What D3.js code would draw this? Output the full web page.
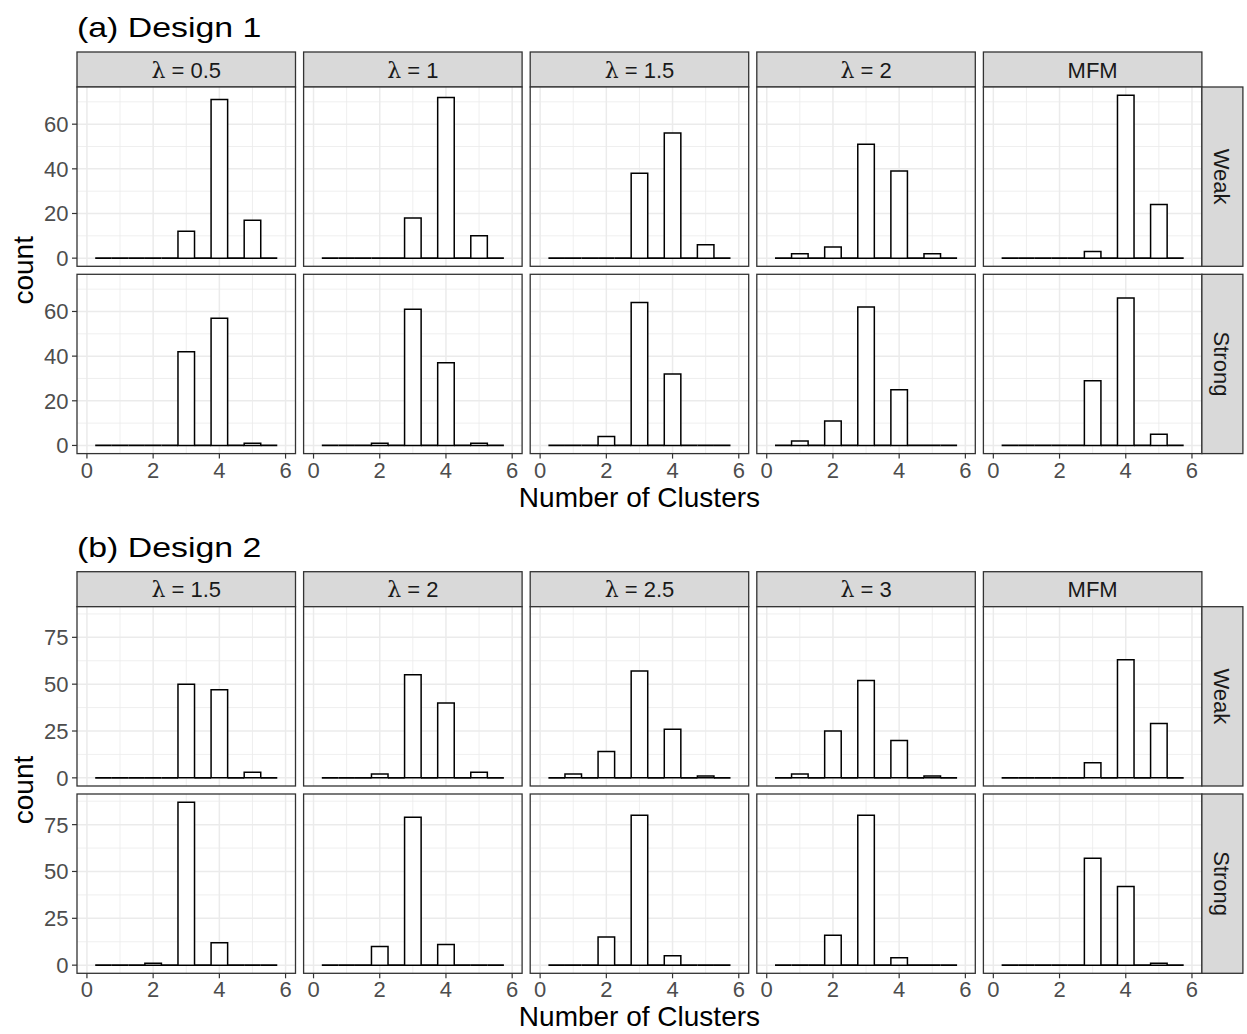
<!DOCTYPE html>
<html lang="en">
<head>
<meta charset="utf-8">
<title>Number of clusters by design</title>
<script src="https://d3js.org/d3.v7.min.js"></script>
<style>
  body { margin: 0; background: #fff; }
  svg { display: block; font-family: "Liberation Sans", Arial, Helvetica, sans-serif; }
  .title { font-size: 28px; fill: #000; }
  .axis-title { font-size: 28px; fill: #000; }
  .tick-label { font-size: 22px; fill: #4d4d4d; }
  .strip-label { font-size: 22px; fill: #1a1a1a; }
  .lambda { font-family: "DejaVu Serif", "Liberation Serif", serif; }
</style>
</head>
<body>
<svg width="1247" height="1034"></svg>
<script>
// counts for clusters 1..5, one array per panel (100 replicates each)
const clusters = [1, 2, 3, 4, 5];
const rowLabels = ["Weak", "Strong"];

const design1Labels = [["λ", " = 0.5"], ["λ", " = 1"], ["λ", " = 1.5"], ["λ", " = 2"], ["", "MFM"]];
const design1Weak = [
  [0, 0, 12, 71, 17],
  [0, 0, 18, 72, 10],
  [0, 0, 38, 56, 6],
  [2, 5, 51, 39, 2],
  [0, 0, 3, 73, 24]
];
const design1Strong = [
  [0, 0, 42, 57, 1],
  [0, 1, 61, 37, 1],
  [0, 4, 64, 32, 0],
  [2, 11, 62, 25, 0],
  [0, 0, 29, 66, 5]
];
const design1YTicks = [0, 20, 40, 60];
const design1YMinor = [10, 30, 50, 70];

const design2Labels = [["λ", " = 1.5"], ["λ", " = 2"], ["λ", " = 2.5"], ["λ", " = 3"], ["", "MFM"]];
const design2Weak = [
  [0, 0, 50, 47, 3],
  [0, 2, 55, 40, 3],
  [2, 14, 57, 26, 1],
  [2, 25, 52, 20, 1],
  [0, 0, 8, 63, 29]
];
const design2Strong = [
  [0, 1, 87, 12, 0],
  [0, 10, 79, 11, 0],
  [0, 15, 80, 5, 0],
  [0, 16, 80, 4, 0],
  [0, 0, 57, 42, 1]
];
const design2YTicks = [0, 25, 50, 75];
const design2YMinor = [12.5, 37.5, 62.5, 87.5];

const xTicks = [0, 2, 4, 6];
const xMinor = [1, 3, 5];

// layout
const panelLeft = 77, panelW = 218.5, colPitch = 226.6;
const stripH = 35, panelH = 179.3, rowGap = 8, rightStripW = 41;
const binWidth = 0.5;

const svg = d3.select("svg");

function drawDesign(top, title, labels, weak, strong, yTicks, yMinor) {
  const g = svg.append("g");
  const rows = [weak, strong];
  const yMax = d3.max(rows.flat(2));
  const pad = yMax * 0.05;

  const x = d3.scaleLinear().domain([-0.3, 6.3]).range([0, panelW]);
  const y = d3.scaleLinear().domain([-pad, yMax + pad]).range([panelH, 0]);

  // title (the reference title is set wide)
  g.append("text").attr("class", "title")
    .attr("transform", `translate(${panelLeft},${top - 15}) scale(1.21,1)`)
    .text(title);

  const panelsTop = top + stripH;

  labels.forEach((lab, c) => {
    const px = panelLeft + c * colPitch;

    // top strip
    g.append("rect")
      .attr("x", px).attr("y", top).attr("width", panelW).attr("height", stripH)
      .attr("fill", "#d9d9d9").attr("stroke", "#333333").attr("stroke-width", 1.3);
    const st = g.append("text").attr("class", "strip-label")
      .attr("x", px + panelW / 2).attr("y", top + stripH / 2 + 8)
      .attr("text-anchor", "middle");
    if (lab[0]) st.append("tspan").attr("class", "lambda").text(lab[0]);
    st.append("tspan").text(lab[1]);

    rows.forEach((vals, r) => {
      const py = panelsTop + r * (panelH + rowGap);
      const p = g.append("g").attr("transform", `translate(${px},${py})`);

      p.append("rect").attr("width", panelW).attr("height", panelH).attr("fill", "#fff");

      // grid
      p.selectAll(".gxm").data(xMinor).enter().append("line")
        .attr("x1", d => x(d)).attr("x2", d => x(d)).attr("y1", 0).attr("y2", panelH)
        .attr("stroke", "#ebebeb").attr("stroke-width", 0.8);
      p.selectAll(".gym").data(yMinor.filter(v => v < yMax + pad)).enter().append("line")
        .attr("x1", 0).attr("x2", panelW).attr("y1", d => y(d)).attr("y2", d => y(d))
        .attr("stroke", "#ebebeb").attr("stroke-width", 0.8);
      p.selectAll(".gx").data(xTicks).enter().append("line")
        .attr("x1", d => x(d)).attr("x2", d => x(d)).attr("y1", 0).attr("y2", panelH)
        .attr("stroke", "#ebebeb").attr("stroke-width", 1.5);
      p.selectAll(".gy").data(yTicks).enter().append("line")
        .attr("x1", 0).attr("x2", panelW).attr("y1", d => y(d)).attr("y2", d => y(d))
        .attr("stroke", "#ebebeb").attr("stroke-width", 1.5);

      // histogram bins, centres 0.5 .. 5.5 (empty bins draw as a flat outline)
      const bins = d3.range(1, 12).map(k => {
        const centre = k * binWidth;
        const idx = clusters.indexOf(centre);
        return { centre: centre, count: idx >= 0 ? vals[c][idx] : 0 };
      });
      p.selectAll(".bar").data(bins).enter().append("path")
        .attr("d", d => {
          const x0 = x(d.centre - binWidth / 2), x1 = x(d.centre + binWidth / 2);
          const path = d3.path();
          path.moveTo(x0, y(0));
          path.lineTo(x0, y(d.count));
          path.lineTo(x1, y(d.count));
          path.lineTo(x1, y(0));
          path.closePath();
          return path.toString();
        })
        .attr("fill", "#fff").attr("stroke", "#000")
        .attr("stroke-width", d => d.count === 0 ? 1.8 : 1.5);

      // border
      p.append("rect").attr("width", panelW).attr("height", panelH)
        .attr("fill", "none").attr("stroke", "#333333").attr("stroke-width", 1.3);

      // y axis on first column
      if (c === 0) {
        yTicks.forEach(t => {
          p.append("line").attr("x1", -5).attr("x2", 0).attr("y1", y(t)).attr("y2", y(t))
            .attr("stroke", "#333333").attr("stroke-width", 1.2);
          p.append("text").attr("class", "tick-label")
            .attr("x", -8.5).attr("y", y(t)).attr("dy", "0.36em")
            .attr("text-anchor", "end").text(t);
        });
      }

      // x axis on bottom row
      if (r === 1) {
        xTicks.forEach(t => {
          p.append("line").attr("x1", x(t)).attr("x2", x(t)).attr("y1", panelH).attr("y2", panelH + 5)
            .attr("stroke", "#333333").attr("stroke-width", 1.2);
          p.append("text").attr("class", "tick-label")
            .attr("x", x(t)).attr("y", panelH + 24)
            .attr("text-anchor", "middle").text(t);
        });
      }

      // right strip
      if (c === labels.length - 1) {
        p.append("rect")
          .attr("x", panelW).attr("y", 0).attr("width", rightStripW).attr("height", panelH)
          .attr("fill", "#d9d9d9").attr("stroke", "#333333").attr("stroke-width", 1.3);
        p.append("text").attr("class", "strip-label")
          .attr("transform", `translate(${panelW + rightStripW / 2 - 8},${panelH / 2}) rotate(90)`)
          .attr("text-anchor", "middle")
          .text(rowLabels[r]);
      }
    });
  });

  // axis titles
  const panelsRight = panelLeft + (labels.length - 1) * colPitch + panelW;
  const bottom = panelsTop + 2 * panelH + rowGap;
  g.append("text").attr("class", "axis-title")
    .attr("x", (panelLeft + panelsRight) / 2).attr("y", bottom + 53)
    .attr("text-anchor", "middle").text("Number of Clusters");
  g.append("text").attr("class", "axis-title")
    .attr("transform", `translate(33,${(panelsTop + bottom) / 2}) rotate(-90)`)
    .attr("text-anchor", "middle").text("count");
}

drawDesign(52, "(a) Design 1", design1Labels, design1Weak, design1Strong, design1YTicks, design1YMinor);
drawDesign(571.7, "(b) Design 2", design2Labels, design2Weak, design2Strong, design2YTicks, design2YMinor);
</script>
</body>
</html>
